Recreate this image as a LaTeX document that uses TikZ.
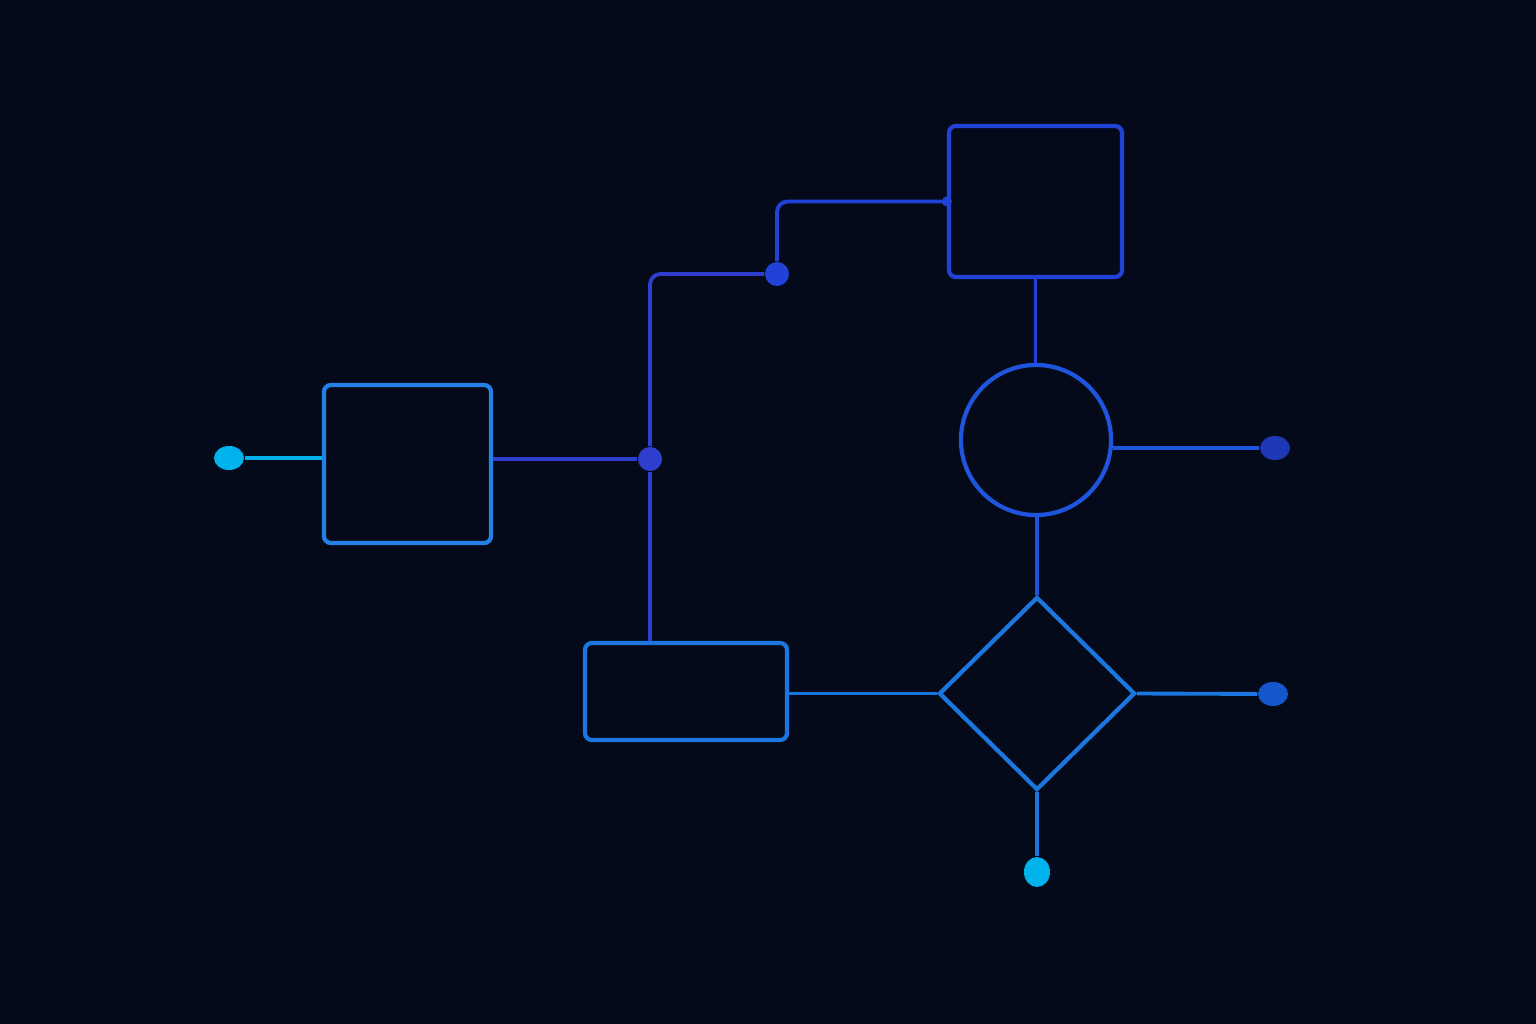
\documentclass[tikz,border=0pt]{standalone}
\usepackage{color}
\definecolor{mybg}{RGB}{4,10,26}
\definecolor{mycyan}{RGB}{0,178,235}
\definecolor{myazure}{RGB}{35,128,230}
\definecolor{myindigo}{RGB}{48,62,205}
\definecolor{myroyal}{RGB}{34,66,215}
\definecolor{mycobalt}{RGB}{30,84,222}
\definecolor{mysky}{RGB}{28,118,224}
\definecolor{mynavy}{RGB}{28,56,182}
\definecolor{myocean}{RGB}{20,86,204}
\usepackage{tikz}
\usetikzlibrary{shapes.geometric,positioning,calc}
\tikzstyle{block}=[draw,rounded corners=2pt,line width=1.2pt,fill=mybg,inner sep=0pt]
\tikzstyle{ring}=[draw,circle,line width=1.2pt,inner sep=0pt,minimum size=1.5cm]
\tikzstyle{rhombus}=[draw,diamond,line width=1.2pt,inner sep=0pt,minimum width=1.96cm,minimum height=1.93cm]
\tikzstyle{terminal}=[ellipse,inner sep=0pt,minimum width=0.3cm,minimum height=0.24cm]
\tikzstyle{junction}=[circle,inner sep=0pt,minimum size=0.24cm]
\tikzstyle{wire}=[line width=1.1pt]

\begin{document}
\begin{tikzpicture}[x=0.01cm,y=-0.01cm]
\fill[mybg] (0,0) rectangle (1536,1024);
\draw (229,458) node [terminal, fill=mycyan] (in) {};
\draw (407.5,464) node [block, draw=myazure, minimum width=1.67cm, minimum height=1.58cm] (proc) {};
\draw (650,459) node [junction, fill=myindigo] (split) {};
\draw (777,274) node [junction, fill=myroyal] (tap) {};
\draw (1035.5,201.5) node [block, draw=myroyal, minimum width=1.73cm, minimum height=1.51cm] (store) {};
\draw (1036,440) node [ring, draw=mycobalt] (hub) {};
\draw (1275,448) node [terminal, fill=mynavy] (outa) {};
\draw (686,691.5) node [block, draw=mysky, minimum width=2.02cm, minimum height=0.97cm] (task) {};
\draw (1037,693.5) node [rhombus, draw=mysky] (check) {};
\draw (1273,694) node [terminal, fill=myocean] (outb) {};
\draw (1037,872) node [terminal, fill=mycyan, minimum width=0.26cm, minimum height=0.3cm] (outc) {};
\draw[wire, mycyan] (in) -- (proc.west |- in);
\draw[wire, myindigo] (proc.east |- split) -- (split);
\draw[wire, myindigo, rounded corners=3pt] (split) |- (tap);
\draw[wire, myroyal, rounded corners=3pt] (tap) |- (store.west);
\fill[myroyal] (store.west) circle (0.05cm);
\draw[wire, myindigo] (split) -- (task.north -| split);
\draw[wire, myroyal] (store.south) -- (store.south |- hub.north);
\draw[wire, mycobalt] (hub.east |- outa) -- (outa);
\draw[wire, mycobalt] (check.north |- hub.south) -- (check.north);
\draw[wire, mysky] (task.east |- check.west) -- (check.west);
\draw[wire, mysky] (check.east) -- (outb);
\draw[wire, mysky] (check.south) -- (outc);
\end{tikzpicture}
\end{document}
